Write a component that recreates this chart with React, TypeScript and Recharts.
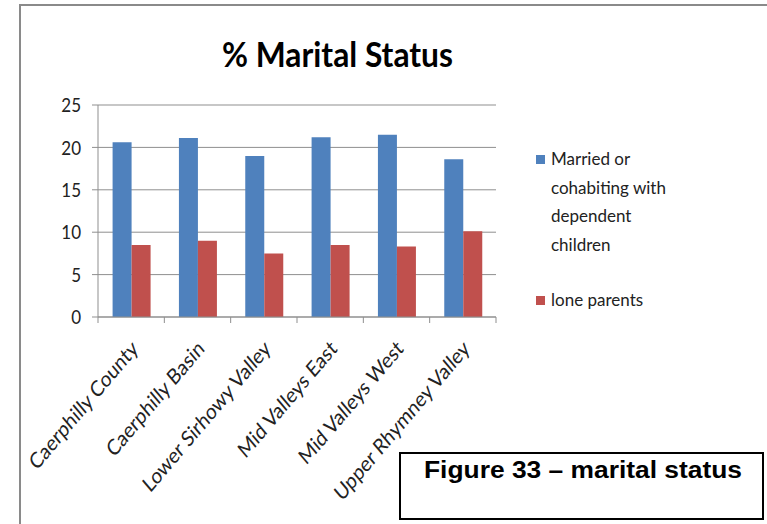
import React from "react";
import { BarChart, Bar, XAxis, YAxis, CartesianGrid, Legend } from "recharts";

const areas = [
  "Caerphilly County",
  "Caerphilly Basin",
  "Lower Sirhowy Valley",
  "Mid Valleys East",
  "Mid Valleys West",
  "Upper Rhymney Valley",
];
const marriedWithChildren = [20.6, 21.1, 19.0, 21.2, 21.5, 18.6];
const loneParents = [8.5, 9.0, 7.5, 8.5, 8.3, 10.1];
const yTicks = [0, 5, 10, 15, 20, 25];

const data = areas.map((area, i) => ({
  area,
  married: marriedWithChildren[i],
  lone: loneParents[i],
}));

const W = 767;
const H = 524;
const LEFT = 98;
const RIGHT = 271;
const TOP = 105;
const BOTTOM = 207;
const band = (W - LEFT - RIGHT) / areas.length;
const font = "Lato, 'Open Sans', sans-serif";
const grey = "#8f8f8f";
// the source picture is a little stretched vertically
const stretch = 1.18;

const CatTick = (props: any) => {
  const { x, y, payload, index } = props;
  const ax = x + 8;
  const ay = y + 33;
  return (
    <g>
      {index === 0 && (
        <line x1={x - band / 2} x2={x - band / 2} y1={y} y2={y + 6} stroke={grey} />
      )}
      <line x1={x + band / 2} x2={x + band / 2} y1={y} y2={y + 6} stroke={grey} />
      <text
        x={0}
        y={0}
        textAnchor="end"
        transform={`translate(${ax} ${ay}) scale(1 ${stretch}) rotate(-45)`}
        fontFamily={font}
        fontSize={18.5}
        fill="#222"
      >
        {payload.value}
      </text>
    </g>
  );
};

const ValTick = (props: any) => {
  const { y, payload } = props;
  return (
    <text
      x={0}
      y={0}
      textAnchor="end"
      transform={`translate(${LEFT - 17} ${y}) scale(1 ${stretch})`}
      dy="0.36em"
      fontFamily={font}
      fontSize={17}
      fill="#222"
    >
      {payload.value}
    </text>
  );
};

const LegendBox = () => (
  <div style={{ fontFamily: font, fontSize: 17, color: "#222", lineHeight: "28.5px" }}>
    <div style={{ display: "flex" }}>
      <span style={{ width: 9, height: 9, background: "#4F81BD", marginTop: 10, marginRight: 6, flex: "none" }} />
      <span style={{ width: 130 }}>Married or cohabiting with dependent children</span>
    </div>
    <div style={{ display: "flex", marginTop: 27 }}>
      <span style={{ width: 9, height: 9, background: "#C0504D", marginTop: 10, marginRight: 6, flex: "none" }} />
      <span>lone parents</span>
    </div>
  </div>
);

export default function App() {
  return (
    <div style={{ position: "absolute", left: 0, top: 0, width: W, height: H, background: "#fff", overflow: "hidden" }}>
      <div
        style={{
          position: "absolute",
          left: 19,
          top: 4,
          width: W,
          height: H,
          borderTop: "2px solid #8a8a8a",
          borderLeft: "2px solid #8a8a8a",
        }}
      />
      <svg style={{ position: "absolute", left: 0, top: 0 }} width={W} height={90}>
        <text
          x={222}
          y={67}
          textLength={231}
          lengthAdjust="spacingAndGlyphs"
          fontFamily={font}
          fontWeight="bold"
          fontSize={34}
          fill="#000"
        >
          % Marital Status
        </text>
      </svg>
      <BarChart
        width={W}
        height={H}
        data={data}
        margin={{ top: TOP, right: RIGHT, left: 0, bottom: 0 }}
        barCategoryGap="22%"
        barGap={0}
      >
        <CartesianGrid vertical={false} stroke={grey} />
        <XAxis
          dataKey="area"
          height={BOTTOM}
          interval={0}
          tickSize={0}
          tickMargin={0}
          tickLine={false}
          axisLine={{ stroke: grey }}
          tick={<CatTick />}
        />
        <YAxis
          width={LEFT}
          domain={[0, 25]}
          ticks={yTicks}
          interval={0}
          axisLine={{ stroke: grey }}
          tickLine={{ stroke: grey }}
          tickSize={6}
          tick={<ValTick />}
        />
        <Legend
          layout="vertical"
          align="center"
          verticalAlign="middle"
          wrapperStyle={{ left: 536, top: 145, width: 170 }}
          content={() => <LegendBox />}
        />
        <Bar dataKey="married" fill="#4F81BD" isAnimationActive={false} />
        <Bar dataKey="lone" fill="#C0504D" isAnimationActive={false} />
      </BarChart>
      <div
        style={{
          position: "absolute",
          left: 399,
          top: 452,
          width: 361,
          height: 64,
          border: "2px solid #000",
          background: "#fff",
        }}
      >
        <svg width={361} height={64} style={{ display: "block" }}>
          <text
            x={23}
            y={24}
            textLength={318}
            lengthAdjust="spacingAndGlyphs"
            fontFamily="'Liberation Sans', Arial, sans-serif"
            fontWeight="bold"
            fontSize={23}
            fill="#000"
          >
            Figure 33 – marital status
          </text>
        </svg>
      </div>
    </div>
  );
}
